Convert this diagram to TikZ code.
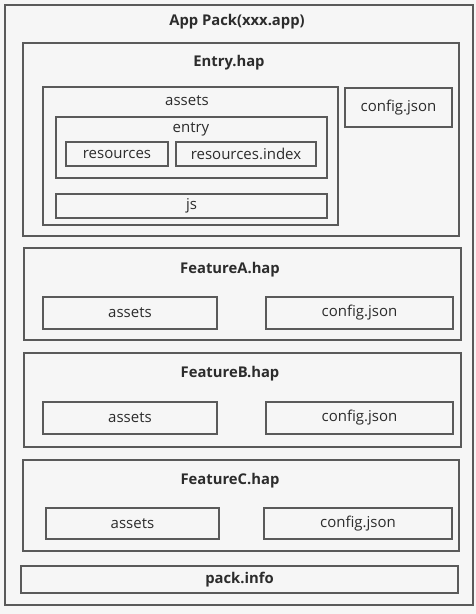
\documentclass[tikz,border=0pt]{standalone}
\usepackage{fontspec}
\setmainfont{Open Sans}
\definecolor{bg}{HTML}{F6F6F6}
\definecolor{edge}{HTML}{5A5A5A}
\definecolor{ink}{HTML}{2C2C2C}
\tikzset{
  box/.style={draw=edge, line width=1.1pt, rectangle, inner sep=0pt},
  hdr/.style={text=ink, font=\fontsize{14.8}{16}\selectfont\bfseries},
  txt/.style={text=ink, font=\fontsize{15}{16}\selectfont}
}
\begin{document}
\begin{tikzpicture}[x=1pt,y=-1pt]
        \fill[bg] (0,0) rectangle (476,614);
        \useasboundingbox (0,0) rectangle (476,614);
        % app pack
        \node[box, minimum width=468pt, minimum height=600pt] (app) at (239,305) {};
        \node[hdr] (appt) at (237,22) {App Pack(xxx.app)};
        % entry hap
        \node[box, minimum width=436pt, minimum height=193pt] (entry) at (241,139.5) {};
        \node[hdr] (entryt) at (229,63) {Entry.hap};
        \node[box, minimum width=295pt, minimum height=138pt] (assets) at (190.5,156) {};
        \node[txt] (assetst) at (187,101) {assets};
        \node[box, txt, minimum width=107pt, minimum height=39pt] (cfg) at (398.5,107.5) {config.json};
        \node[box, minimum width=271pt, minimum height=61pt] (ent) at (191.5,147.5) {};
        \node[txt] (entt) at (191,129) {entry};
        \node[box, txt, minimum width=102pt, minimum height=24pt] (res) at (117,154) {resources};
        \node[box, txt, minimum width=140pt, minimum height=24pt] (resi) at (246,154) {resources.index};
        \node[box, txt, minimum width=271pt, minimum height=24pt] (js) at (191.5,206) {js};
        % feature a
        \node[box, minimum width=437pt, minimum height=92pt] (fa) at (242.5,294) {};
        \node[hdr] (fat) at (230,270) {FeatureA.hap};
        \node[box, txt, minimum width=174pt, minimum height=32pt] (faa) at (130,313) {assets};
        \node[box, txt, minimum width=187pt, minimum height=32pt] (fac) at (359.5,313) {config.json};
        % feature b
        \node[box, minimum width=437pt, minimum height=94pt] (fb) at (242.5,400) {};
        \node[hdr] (fbt) at (230,374) {FeatureB.hap};
        \node[box, txt, minimum width=174pt, minimum height=32pt] (fba) at (130,418) {assets};
        \node[box, txt, minimum width=187pt, minimum height=32pt] (fbc) at (359.5,418) {config.json};
        % feature c
        \node[box, minimum width=436pt, minimum height=91pt] (fc) at (241,505.5) {};
        \node[hdr] (fct) at (230,481) {FeatureC.hap};
        \node[box, txt, minimum width=173pt, minimum height=31pt] (fca) at (132.5,523.5) {assets};
        \node[box, txt, minimum width=188pt, minimum height=31pt] (fcc) at (358,523.5) {config.json};
        % pack info
        \node[box, hdr, minimum width=437pt, minimum height=27pt] (info) at (239.5,579.5) {pack.info};
\end{tikzpicture}
\end{document}
